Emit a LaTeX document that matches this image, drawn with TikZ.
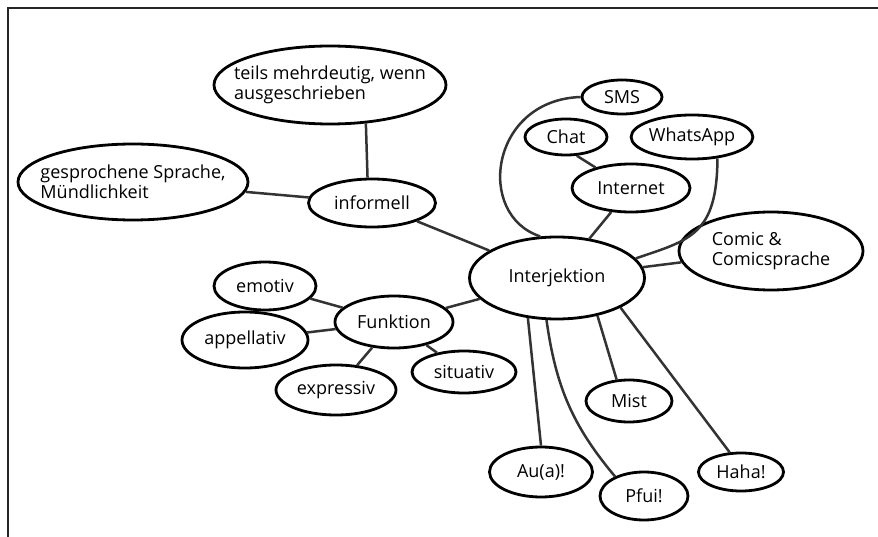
\documentclass[tikz,border=0pt]{standalone}
\usepackage{fontspec}
\setmainfont{Open Sans}
\usetikzlibrary{shapes.geometric}
\tikzset{
  txt/.style={font=\fontsize{18}{20}\selectfont},
  blob/.style={ellipse, draw=black, line width=2.8pt, fill=white, inner sep=0pt, txt},
  conn/.style={draw=black!80, line width=2.5pt},
  frame/.style={draw=black!85, line width=1.6pt}
}
\begin{document}
\begin{tikzpicture}[x=1pt,y=1pt]
\useasboundingbox (0,0) rectangle (878,-537);
\draw[frame] (878,-8) -- (8,-8) -- (8,-537);

% nodes
\node[blob, minimum width=232pt, minimum height=78pt,
  label={[txt, align=left]center:teils mehrdeutig, wenn\\ausgeschrieben}] (teils) at (330,-85) {};
\node[blob, minimum width=230pt, minimum height=76pt,
  label={[txt, align=left]center:gesprochene Sprache,\\Mündlichkeit}] (gespr) at (133,-182) {};
\node[blob, minimum width=127pt, minimum height=48pt] (informell) at (372,-203) {informell};
\node[blob, minimum width=175pt, minimum height=82pt] (inter) at (557,-278) {Interjektion};
\node[blob, minimum width=80pt, minimum height=34pt] (sms) at (622,-97) {SMS};
\node[blob, minimum width=82pt, minimum height=36pt] (chat) at (566,-137) {Chat};
\node[blob, minimum width=120pt, minimum height=44pt] (whatsapp) at (692,-137) {WhatsApp};
\node[blob, minimum width=118pt, minimum height=48pt] (internet) at (631,-188) {Internet};
\node[blob, minimum width=184pt, minimum height=78pt,
  label={[txt, align=left]center:Comic \&\\Comicsprache}] (comic) at (771,-251) {};
\node[blob, minimum width=118pt, minimum height=52pt] (funktion) at (394,-322) {Funktion};
\node[blob, minimum width=102pt, minimum height=48pt] (emotiv) at (265,-286) {emotiv};
\node[blob, minimum width=126pt, minimum height=56pt] (appell) at (245,-340) {appellativ};
\node[blob, minimum width=120pt, minimum height=50pt] (express) at (336,-390) {expressiv};
\node[blob, minimum width=104pt, minimum height=42pt] (situativ) at (464,-372) {situativ};
\node[blob, minimum width=86pt, minimum height=42pt] (mist) at (629,-401) {Mist};
\node[blob, minimum width=103pt, minimum height=50pt] (aua) at (541,-472) {Au(a)!};
\node[blob, minimum width=88pt, minimum height=48pt] (pfui) at (644,-496) {Pfui!};
\node[blob, minimum width=85pt, minimum height=38pt] (haha) at (741,-472) {Haha!};

% connectors
\draw[conn] (teils.-47) -- (informell.100);
\draw[conn] (gespr) -- (informell);
\draw[conn] (informell) -- (inter);
\draw[conn] (sms.west) .. controls (490,-100) and (475,-215) .. (inter.112);
\draw[conn] (chat.-60) -- (internet.150);
\draw[conn] (internet) -- (inter);
\draw[conn] (whatsapp.-40) .. controls (717,-235) and (690,-240) .. (inter.14);
\draw[conn] (inter) -- (comic);
\draw[conn] (funktion) -- (inter);
\draw[conn] (emotiv) -- (funktion);
\draw[conn] (appell) -- (funktion);
\draw[conn] (funktion) -- (express);
\draw[conn] (funktion) -- (situativ);
\draw[conn] (inter.-126) -- (aua.north);
\draw[conn] (inter.-104) to[out=-82, in=130] (pfui.146);
\draw[conn] (inter.-43) -- (mist.120);
\draw[conn] (inter.-25) -- (haha.120);
\end{tikzpicture}
\end{document}
